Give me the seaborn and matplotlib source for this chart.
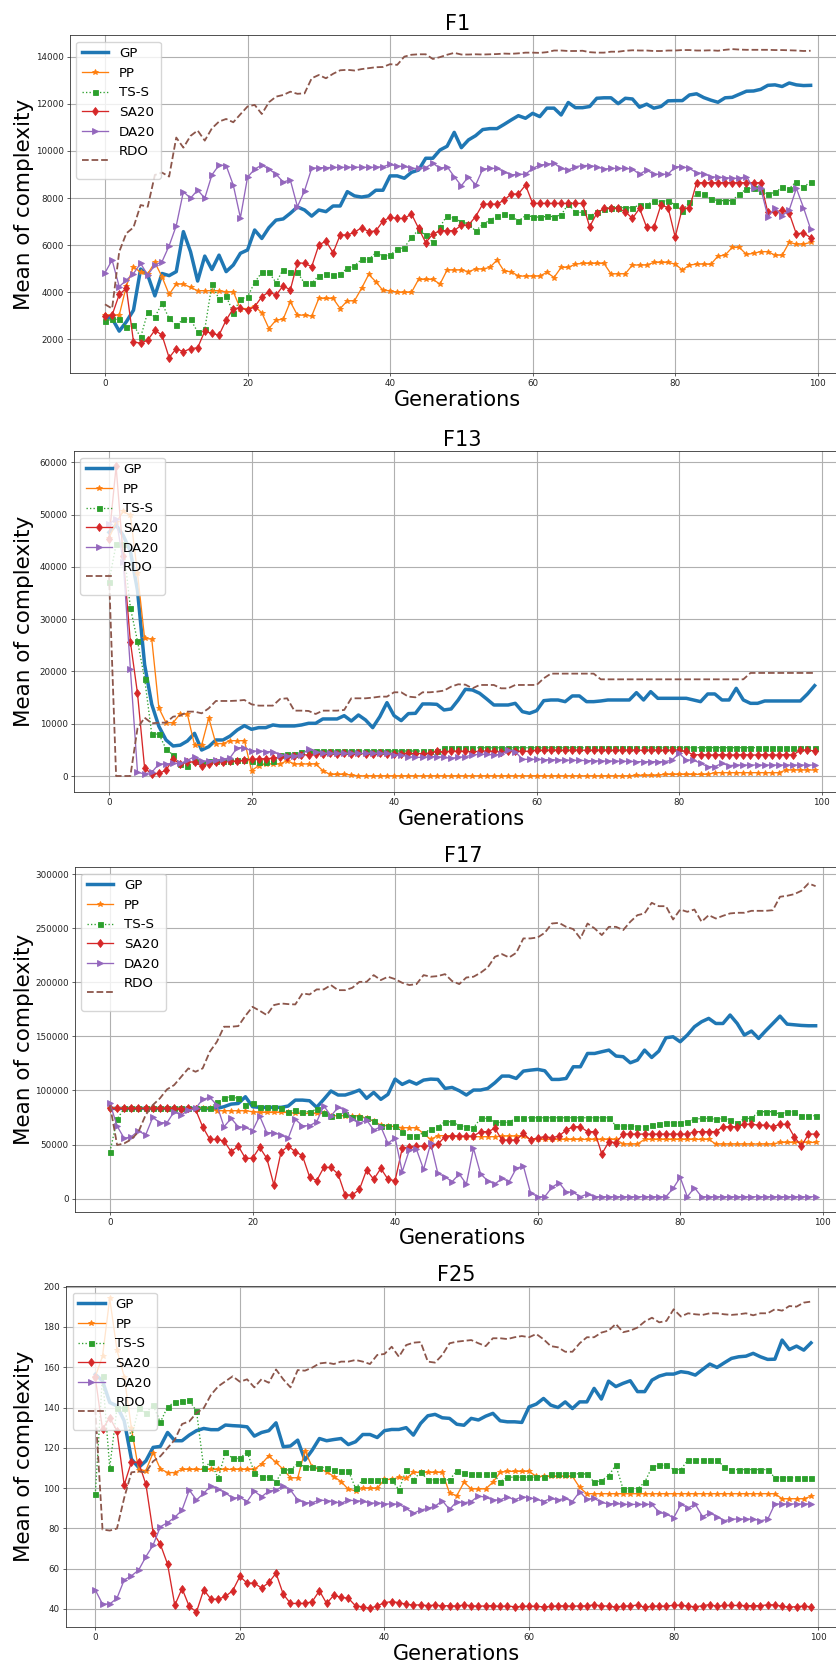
import matplotlib
matplotlib.use("Agg")
import matplotlib.pyplot as plt
import seaborn as sns

gens = list(range(100))
series_names = ["GP", "PP", "TS-S", "SA20", "DA20", "RDO"]
legend_labels = ["GP", "PP", "TS-S", "SA20", "DA20", "RDO\n"]
titles = ["F1", "F13", "F17", "F25"]

# ---------------- F1 ----------------
f1_gp = [2950, 2880, 2340, 2740, 3230, 4980, 4720, 3840, 4790, 4700,
         4870, 6570, 5720, 4470, 5530, 4960, 5570, 4870, 5150, 5650,
         5790, 6640, 6280, 6740, 7060, 7110, 7350, 7620, 7490, 7230,
         7490, 7420, 7660, 7660, 8270, 8090, 8040, 8090, 8330, 8330,
         8940, 8940, 8840, 9090, 9190, 9690, 9690, 10040, 10200, 10790,
         10140, 10470, 10650, 10910, 10950, 10950, 11130, 11320, 11500, 11390,
         11600, 11460, 11820, 11820, 11530, 12060, 11840, 11840, 11890, 12240,
         12260, 12260, 12010, 12240, 12210, 11860, 11990, 11820, 11890, 12130,
         12140, 12140, 12380, 12430, 12270, 12160, 12070, 12260, 12280, 12410,
         12540, 12550, 12620, 12790, 12810, 12740, 12890, 12810, 12780, 12790]
f1_pp = [3020, 3020, 3020, 4260, 5080, 4840, 4780, 5260, 4650, 3900,
         4340, 4340, 4200, 4060, 4060, 4060, 4060, 4010, 4010, 3300,
         3300, 3400, 3120, 2450, 2810, 2850, 3590, 3020, 3020, 2980,
         3730, 3730, 3730, 3300, 3630, 3630, 4160, 4750, 4440, 4070,
         4060, 3990, 3990, 3990, 4540, 4540, 4540, 4340, 4940, 4940,
         4940, 4870, 4980, 4980, 5050, 5360, 4890, 4870, 4680, 4680,
         4680, 4680, 4840, 4620, 5050, 5050, 5190, 5220, 5220, 5220,
         5220, 4770, 4780, 4780, 5150, 5150, 5150, 5260, 5260, 5260,
         5190, 4940, 5150, 5190, 5190, 5180, 5530, 5570, 5900, 5900,
         5600, 5650, 5720, 5720, 5570, 5570, 6110, 6040, 6040, 6110]
f1_tss = [2770, 2840, 2840, 2500, 2620, 2070, 3160, 2940, 3520, 2880,
          2600, 2840, 2840, 2310, 2410, 4330, 3700, 3830, 3120, 3700,
          3800, 4410, 4840, 4840, 4400, 4960, 4870, 4840, 4370, 4370,
          4700, 4770, 4720, 4770, 5010, 5120, 5390, 5390, 5670, 5530,
          5570, 5820, 5890, 6330, 6640, 6430, 6110, 6780, 7250, 7130,
          6990, 6890, 6600, 6880, 7060, 7230, 7300, 7250, 7020, 7250,
          7210, 7180, 7220, 7210, 7280, 7740, 7390, 7390, 7230, 7390,
          7520, 7590, 7590, 7590, 7580, 7700, 7700, 7890, 7840, 7890,
          7700, 7450, 7840, 8200, 8170, 7960, 7890, 7890, 7890, 8170,
          8380, 8440, 8310, 8160, 8240, 8450, 8400, 8700, 8450, 8700]
f1_sa = [2980, 3020, 3900, 4160, 1890, 1820, 1960, 2380, 2170, 1210,
         1600, 1460, 1600, 1630, 2340, 2240, 2170, 2810, 3300, 3330,
         3230, 3380, 3800, 4010, 3870, 4270, 4090, 5250, 5220, 5080,
         6000, 6170, 5670, 6430, 6430, 6540, 6740, 6570, 6600, 7020,
         7180, 7130, 7130, 7320, 6710, 6100, 6470, 6610, 6610, 6610,
         6850, 6850, 7210, 7740, 7740, 7740, 7910, 8170, 8170, 8550,
         7770, 7770, 7770, 7770, 7770, 7770, 7770, 7770, 6780, 7350,
         7560, 7560, 7560, 7420, 7130, 7560, 6750, 6750, 7700, 7590,
         6340, 7560, 7560, 8650, 8650, 8650, 8650, 8650, 8650, 8650,
         8650, 8650, 8650, 7390, 7390, 7490, 7350, 6470, 6520, 6310]
f1_da = [4820, 5360, 4230, 4510, 4790, 5220, 4720, 5150, 5290, 5970,
         6820, 8270, 7990, 8340, 7990, 8980, 9400, 9380, 8550, 7160,
         8880, 9230, 9400, 9230, 9010, 8680, 8770, 7630, 8310, 9260,
         9290, 9290, 9300, 9300, 9310, 9310, 9310, 9300, 9310, 9330,
         9430, 9350, 9350, 9260, 9260, 9290, 9480, 9260, 9330, 8910,
         8520, 8910, 8550, 9230, 9260, 9260, 9120, 8980, 9010, 9010,
         9260, 9400, 9430, 9480, 9260, 9190, 9330, 9380, 9380, 9330,
         9230, 9260, 9260, 9260, 9230, 9010, 9190, 9010, 9010, 9010,
         9330, 9330, 9260, 9070, 9040, 8910, 8880, 8870, 8840, 8840,
         8910, 8410, 8410, 7210, 7560, 7250, 7490, 8410, 7590, 6680]
f1_rdo = [3480, 3300, 5720, 6500, 6750, 7700, 7630, 8980, 9080, 8910,
          10570, 10140, 10640, 10870, 10440, 10960, 11250, 11360, 11220, 11560,
          11890, 11960, 11570, 12070, 12310, 12380, 12520, 12430, 12450, 13090,
          13230, 13090, 13280, 13430, 13450, 13420, 13480, 13520, 13560, 13570,
          13690, 13660, 14010, 14090, 14110, 14110, 13910, 13990, 14090, 14170,
          14100, 14100, 14110, 14100, 14110, 14120, 14140, 14130, 14150, 14180,
          14180, 14170, 14200, 14270, 14270, 14250, 14250, 14260, 14200, 14180,
          14180, 14220, 14220, 14260, 14280, 14270, 14270, 14250, 14250, 14270,
          14270, 14290, 14290, 14270, 14270, 14280, 14260, 14300, 14330, 14310,
          14300, 14300, 14300, 14300, 14290, 14290, 14280, 14270, 14250, 14260]

# ---------------- F13 ----------------
f13_gp = [46600, 48000, 46000, 43000, 35500, 21300, 13700, 9500, 6900, 5740,
          5900, 6700, 8160, 4970, 5610, 6890, 6890, 7650, 8800, 9630,
          8930, 9250, 9250, 9760, 9570, 9570, 9570, 9760, 10080, 10080,
          10910, 10910, 10910, 11540, 10520, 11670, 10710, 9250, 11350, 14030,
          11540, 10590, 11930, 11990, 13780, 13780, 13710, 12630, 12820, 14540,
          16580, 16450, 15820, 14730, 13580, 13580, 13580, 13900, 12310, 11990,
          12500, 14410, 14540, 14540, 14220, 15310, 15310, 14220, 14220, 14350,
          14540, 14540, 14540, 14540, 15940, 14540, 16130, 14860, 14860, 14860,
          14860, 14860, 14540, 14220, 15690, 15690, 14540, 14540, 16770, 14540,
          13900, 13900, 14350, 14350, 14350, 14350, 14350, 14350, 15690, 17280]
f13_pp = [45500, 48500, 50600, 49900, 38800, 26300, 26200, 13000, 10200, 10200,
          11900, 11800, 5930, 5930, 11100, 6200, 6200, 6760, 6760, 6760,
          1020, 1980, 2300, 2300, 2300, 2930, 2300, 2300, 2300, 2300,
          1020, 320, 320, 320, 190, 30, 30, 30, 30, 30,
          30, 30, 30, 30, 30, 30, 30, 30, 30, 30,
          30, 30, 30, 30, 30, 30, 30, 30, 30, 30,
          30, 30, 30, 30, 30, 30, 30, 30, 30, 30,
          30, 30, 30, 30, 130, 130, 130, 130, 320, 320,
          320, 320, 320, 320, 320, 640, 640, 640, 640, 640,
          640, 640, 640, 640, 640, 1150, 1150, 1150, 1150, 1150]
f13_tss = [37200, 44300, 44300, 32200, 25800, 18600, 8040, 8000, 5200, 4000,
           2200, 2000, 2800, 2500, 2800, 2800, 2900, 2900, 3000, 3000,
           2800, 2600, 2600, 2800, 4000, 4300, 4300, 4600, 4780, 4780,
           4780, 4780, 4780, 4780, 4780, 4780, 4780, 4780, 4780, 4780,
           4780, 4780, 4780, 4780, 4780, 4780, 4780, 5420, 5420, 5420,
           5420, 5420, 5420, 5420, 5420, 5420, 5420, 5420, 5420, 5420,
           5420, 5420, 5420, 5420, 5420, 5420, 5420, 5420, 5420, 5420,
           5420, 5420, 5420, 5420, 5420, 5420, 5420, 5420, 5420, 5420,
           5420, 5420, 5420, 5420, 5420, 5420, 5420, 5420, 5420, 5420,
           5420, 5420, 5420, 5420, 5420, 5420, 5420, 5420, 5420, 5420]
f13_sa = [45400, 59200, 42000, 25700, 15800, 1500, 400, 500, 1100, 3300,
          2200, 2700, 2700, 1900, 2300, 2600, 2600, 2900, 2800, 3000,
          3200, 3300, 3300, 3400, 3600, 3700, 3800, 4100, 4000, 4200,
          4300, 4340, 4200, 4340, 4300, 4340, 4200, 4300, 4340, 4300,
          4200, 4300, 4340, 4300, 4300, 4340, 4700, 4660, 4700, 4780,
          4700, 4660, 4700, 4780, 4700, 4660, 4700, 4700, 4780, 4700,
          4970, 4900, 4970, 4970, 4900, 4970, 4970, 4900, 4970, 4970,
          4970, 4900, 4970, 4970, 4970, 4900, 4970, 4970, 4900, 4970,
          4970, 4700, 4020, 4100, 4020, 4020, 4100, 4020, 4020, 4100,
          4020, 4020, 4100, 4020, 4020, 4100, 4020, 4970, 4970, 4780]
f13_da = [48200, 49200, 41000, 20500, 700, 400, 700, 2300, 2300, 2400,
          2400, 3000, 3700, 2870, 2870, 3060, 3190, 3510, 5420, 5420,
          4780, 4780, 4660, 4660, 4020, 3890, 3890, 4020, 5170, 4660,
          4340, 4340, 4340, 4340, 4340, 4340, 4340, 4340, 4340, 4340,
          4020, 4020, 3700, 3570, 3570, 3700, 3700, 3570, 3380, 3570,
          3700, 4020, 4150, 4150, 4020, 4150, 4970, 4660, 3190, 3190,
          3190, 3130, 3130, 3060, 3060, 3000, 3000, 2930, 2930, 2870,
          2870, 2870, 2810, 2810, 2740, 2740, 2740, 2740, 2740, 3060,
          4340, 3060, 3060, 2420, 1790, 1790, 2420, 1980, 2100, 2100,
          2100, 2100, 2100, 2100, 2100, 2100, 2100, 2100, 2100, 2100]
f13_rdo = [38650, 0, 0, 0, 9120, 11160, 10080, 10200, 10200, 11350,
           11540, 12310, 12310, 11990, 12950, 14350, 14350, 14350, 14410, 14540,
           13710, 13460, 13460, 13460, 14730, 14860, 12500, 12500, 12440, 11860,
           12500, 12500, 12500, 12630, 14860, 14860, 14860, 14990, 15180, 15180,
           16010, 16010, 15180, 15050, 16010, 16010, 16130, 16330, 17090, 17540,
           17470, 16770, 17410, 17410, 17410, 16770, 16770, 17410, 17410, 17410,
           17410, 18690, 19580, 19580, 19580, 19580, 19580, 19580, 19580, 18490,
           18490, 18490, 18490, 18490, 18490, 18490, 18490, 18490, 18490, 18490,
           18490, 18490, 18490, 18490, 18490, 18490, 18490, 18490, 18490, 18490,
           19710, 19710, 19710, 19710, 19710, 19710, 19710, 19710, 19710, 19710]

# ---------------- F17 ----------------
f17_gp = [83400, 83400, 83400, 83400, 83400, 83400, 83400, 83400, 83400, 83400,
          83400, 83400, 83400, 83400, 83400, 83400, 85000, 87400, 88000, 94200,
          85000, 84400, 84400, 84400, 84400, 85600, 91100, 91100, 90500, 84400,
          91800, 99500, 95800, 95800, 97900, 100400, 92700, 98200, 91800, 96400,
          110500, 105600, 108700, 105900, 109600, 110500, 110200, 101900, 102800, 99800,
          95800, 100400, 100400, 101900, 107100, 113300, 113300, 111100, 117900, 118800,
          119500, 118200, 110200, 110200, 111100, 121900, 121900, 134200, 134200, 135800,
          137300, 131800, 131200, 125600, 128100, 137300, 130500, 136400, 148700, 149600,
          145000, 151200, 158900, 163500, 166600, 161900, 161900, 169700, 161900, 151200,
          154900, 148100, 155200, 161900, 168700, 161300, 160700, 160100, 159800, 159800]
f17_pp = [83400, 83400, 83400, 83400, 83400, 83400, 83400, 83400, 83400, 83400,
          83400, 83400, 83400, 83400, 83400, 81300, 81300, 81300, 81300, 81300,
          80400, 79700, 79700, 79700, 79700, 79700, 78800, 78800, 78800, 78800,
          78800, 76700, 76700, 76700, 76700, 76700, 74200, 71700, 68000, 67400,
          66500, 65600, 65600, 65600, 60000, 54800, 58200, 58200, 58200, 57300,
          57300, 57300, 57300, 57300, 57300, 57900, 57900, 57900, 57900, 54800,
          54800, 54800, 54800, 54800, 54800, 54800, 54800, 54800, 54800, 54800,
          54800, 54800, 50500, 50500, 50500, 54800, 54800, 54800, 54800, 54800,
          54800, 54800, 54800, 54800, 54800, 50500, 50500, 50500, 50500, 50500,
          50500, 50500, 50500, 50500, 52000, 52000, 52000, 52000, 52000, 52000]
f17_tss = [43400, 73600, 83400, 83400, 83400, 83400, 83400, 83400, 83400, 83400,
           83400, 83400, 83400, 83400, 83400, 89000, 92700, 94200, 92700, 86500,
           88700, 84400, 84400, 84400, 83400, 80400, 81900, 80400, 80400, 82500,
           78800, 76700, 77300, 78200, 75700, 75700, 74200, 71700, 67400, 67400,
           67400, 61900, 57900, 57900, 61000, 64000, 66500, 71100, 71100, 67400,
           66500, 65600, 74200, 74200, 70500, 70500, 70500, 74800, 74800, 74800,
           74800, 74800, 74800, 74800, 74800, 74800, 74800, 74800, 74800, 74800,
           74800, 67100, 67100, 67100, 66500, 66500, 68000, 68600, 70200, 70200,
           70200, 71100, 73300, 74200, 74200, 73300, 74200, 72700, 69600, 74200,
           74200, 80400, 80400, 80400, 77900, 80400, 80400, 76700, 76700, 76700]
f17_sa = [83400, 83400, 83400, 83400, 83400, 83400, 83400, 83400, 83400, 83400,
          82500, 83400, 82500, 66500, 54800, 54800, 53300, 43400, 48600, 37300,
          37300, 47400, 37300, 12600, 43100, 48600, 43400, 39700, 20300, 16600,
          28900, 28900, 22800, 3400, 3400, 8600, 26500, 17900, 28000, 17900,
          16600, 46500, 48000, 48600, 48600, 49500, 50200, 57300, 57900, 57900,
          57900, 57900, 61900, 61900, 65000, 54200, 54200, 54200, 60300, 54200,
          56300, 57300, 56300, 57900, 63400, 66500, 66500, 61900, 61900, 41300,
          52700, 51700, 59700, 59700, 59700, 59700, 59700, 59700, 59700, 59700,
          59700, 59700, 61900, 61900, 61900, 61900, 66500, 66500, 66500, 68700,
          68700, 68000, 68000, 66500, 68700, 68700, 57300, 48600, 59700, 59700]
f17_da = [88100, 67100, 55700, 57300, 62800, 58800, 75100, 70200, 70200, 80400,
          77300, 81900, 83400, 91800, 93600, 86500, 66500, 74200, 66500, 65900,
          62800, 76400, 61000, 61000, 58800, 55700, 73300, 67400, 67400, 71100,
          85900, 76400, 84400, 81900, 73300, 69600, 72700, 63400, 66500, 51100,
          56300, 24900, 45000, 45600, 27100, 51100, 23400, 20300, 15700, 22800,
          13500, 46500, 22800, 16600, 13500, 18800, 15700, 28000, 30200, 5500,
          1800, 1800, 10500, 14800, 6500, 5800, 1800, 4300, 1800, 1800,
          1800, 1800, 1800, 1800, 1800, 1800, 1800, 1800, 1800, 9500,
          19700, 1800, 10200, 1800, 1800, 1800, 1800, 1800, 1800, 1800,
          1800, 1800, 1800, 1800, 1800, 1800, 1800, 1800, 1800, 1800]
f17_rdo = [86500, 49570, 51110, 54800, 61900, 77300, 86500, 92700, 101000, 105000,
           112700, 120400, 117300, 120400, 135800, 145000, 158900, 158900, 159500, 169000,
           177300, 173700, 169700, 178900, 180400, 179800, 179500, 189700, 188700, 193400,
           193400, 197400, 192700, 192700, 194900, 200400, 200400, 206600, 202000, 205100,
           202900, 199500, 197400, 198300, 206600, 205100, 205700, 207500, 201100, 198300,
           204400, 205100, 208800, 213700, 223500, 226000, 222900, 227200, 240500, 240500,
           241400, 245700, 254300, 254900, 251200, 249100, 240500, 254300, 249700, 243600,
           251200, 251200, 248200, 255900, 262000, 263600, 273400, 270300, 270300, 258000,
           267200, 265100, 267200, 255900, 262000, 258900, 261400, 263600, 264200, 264200,
           266000, 266000, 266000, 266600, 279000, 279900, 281400, 284500, 291300, 288800]

# ---------------- F25 ----------------
f25_gp = [156.5, 153.2, 142.5, 140.8, 133.4, 114.4, 110.2, 113.5, 120.2, 120.7,
          127.6, 123.5, 123.5, 126.3, 128.5, 129.6, 129.0, 129.0, 131.3, 131.0,
          130.8, 130.4, 125.8, 127.6, 128.5, 132.4, 120.5, 120.9, 123.8, 113.9,
          118.8, 124.6, 123.5, 124.1, 124.6, 121.6, 123.0, 126.6, 126.6, 125.1,
          128.5, 129.1, 129.1, 130.0, 126.3, 132.1, 135.9, 136.6, 134.9, 134.6,
          131.7, 131.2, 134.6, 133.8, 135.7, 137.1, 133.4, 132.9, 132.9, 132.6,
          140.3, 141.7, 144.5, 141.2, 140.0, 142.8, 139.5, 142.8, 142.8, 149.5,
          144.2, 153.1, 150.4, 152.0, 153.3, 147.9, 147.9, 153.6, 155.6, 156.6,
          156.6, 157.8, 157.3, 156.1, 158.9, 161.6, 159.9, 162.2, 164.4, 165.2,
          165.5, 166.9, 165.2, 163.9, 164.0, 173.5, 168.8, 170.5, 168.5, 172.1]
f25_pp = [155.3, 165.5, 194.2, 168.5, 155.3, 129.7, 109.0, 108.7, 117.6, 109.5,
          107.7, 107.7, 109.3, 109.3, 109.3, 109.3, 109.3, 109.3, 109.3, 109.3,
          109.3, 109.3, 109.3, 112.0, 116.0, 112.7, 109.3, 105.1, 105.1, 118.5,
          110.5, 109.3, 108.2, 105.7, 103.2, 99.4, 98.7, 99.9, 99.9, 99.9,
          104.3, 104.3, 105.3, 104.8, 107.8, 107.8, 107.8, 107.8, 107.8, 97.5,
          96.2, 102.9, 99.6, 99.6, 99.6, 102.9, 107.8, 108.3, 108.3, 108.3,
          108.3, 105.8, 105.8, 105.8, 105.8, 105.8, 105.8, 100.3, 97.2, 97.2,
          97.2, 97.2, 97.2, 97.2, 97.2, 97.2, 97.2, 97.2, 97.2, 97.2,
          97.2, 97.2, 97.2, 97.2, 97.2, 97.2, 97.2, 97.2, 97.2, 97.2,
          97.2, 97.2, 97.2, 97.2, 97.2, 94.7, 94.7, 94.7, 94.7, 95.9]
f25_tss = [96.9, 155.9, 110.1, 139.8, 139.8, 125.0, 139.8, 137.3, 141.1, 132.7,
           140.3, 142.8, 143.1, 143.5, 138.2, 110.1, 112.9, 104.8, 117.9, 114.7,
           114.7, 118.0, 107.7, 105.7, 105.4, 103.2, 109.0, 109.0, 112.2, 110.5,
           110.5, 110.2, 110.2, 109.0, 108.7, 108.7, 99.9, 104.1, 104.1, 104.1,
           104.1, 104.1, 99.1, 109.0, 104.1, 107.9, 104.1, 104.1, 104.1, 104.1,
           108.5, 107.6, 106.8, 106.8, 106.8, 106.8, 103.2, 105.4, 105.4, 105.4,
           105.4, 105.4, 105.4, 107.2, 107.2, 107.2, 107.2, 107.0, 107.0, 102.9,
           103.7, 106.2, 111.3, 99.6, 99.6, 99.6, 102.9, 110.5, 111.3, 111.3,
           109.2, 109.2, 114.1, 114.1, 114.1, 114.1, 114.1, 110.4, 109.2, 109.2,
           109.2, 109.2, 109.2, 109.2, 105.1, 105.1, 105.1, 105.1, 105.1, 105.1]
f25_sa = [155.0, 129.2, 135.0, 128.4, 101.6, 113.0, 112.7, 101.9, 77.9, 72.1,
          62.2, 41.8, 50.1, 41.2, 38.5, 49.5, 44.8, 44.8, 46.2, 49.0,
          56.1, 52.8, 52.8, 50.3, 53.1, 57.7, 47.3, 42.7, 42.7, 42.7,
          43.6, 49.0, 42.7, 46.8, 45.7, 45.3, 41.5, 41.0, 40.3, 41.5,
          43.1, 43.6, 43.1, 42.3, 41.9, 42.0, 41.6, 41.9, 41.5, 41.6,
          41.4, 41.9, 41.6, 41.3, 41.5, 41.6, 41.2, 41.5, 41.0, 41.2,
          41.4, 41.3, 41.0, 41.2, 41.5, 41.5, 41.3, 41.5, 41.5, 42.0,
          41.5, 41.4, 40.9, 41.4, 41.5, 41.9, 40.8, 41.4, 41.4, 41.4,
          41.8, 41.8, 41.4, 41.0, 41.6, 42.1, 41.3, 41.7, 41.7, 41.7,
          41.6, 41.6, 41.6, 42.0, 42.0, 41.3, 40.9, 41.1, 41.4, 41.0]
f25_da = [49.4, 42.4, 42.4, 45.3, 54.4, 56.4, 59.3, 65.9, 71.7, 80.8,
          82.8, 85.5, 89.1, 99.0, 94.1, 97.4, 101.2, 99.4, 97.7, 94.9,
          95.4, 93.3, 98.5, 95.7, 98.5, 99.0, 101.0, 99.0, 94.1, 92.7,
          92.7, 94.1, 93.7, 93.3, 92.4, 94.1, 93.6, 93.6, 92.4, 92.7,
          92.1, 92.1, 92.0, 89.9, 87.4, 89.1, 89.9, 91.0, 93.7, 89.4,
          93.3, 92.7, 93.3, 96.1, 95.4, 94.1, 94.1, 95.7, 94.1, 95.7,
          95.2, 94.5, 93.3, 94.9, 94.1, 94.9, 93.3, 98.2, 94.5, 94.9,
          92.9, 92.1, 92.4, 91.9, 91.9, 91.9, 91.9, 91.9, 87.9, 87.1,
          85.2, 91.9, 90.2, 91.9, 85.8, 87.7, 85.8, 83.8, 84.6, 84.6,
          84.6, 84.6, 83.8, 84.4, 92.1, 92.1, 92.1, 92.1, 92.1, 92.1]
f25_rdo = [139.6, 79.4, 78.9, 79.9, 95.1, 107.8, 108.3, 107.8, 113.3, 115.8,
           119.9, 124.0, 131.8, 133.1, 137.3, 139.7, 146.3, 150.5, 153.0, 155.5,
           152.8, 154.0, 150.0, 154.1, 152.3, 158.9, 154.0, 150.0, 158.6, 158.3,
           159.8, 161.9, 162.3, 161.6, 162.8, 162.8, 163.6, 162.8, 161.6, 166.1,
           166.6, 170.2, 165.2, 171.0, 172.2, 172.5, 162.8, 162.3, 166.1, 171.9,
           172.7, 173.1, 173.5, 171.9, 170.5, 174.4, 174.4, 174.0, 174.9, 175.5,
           174.9, 176.5, 173.9, 170.5, 169.9, 167.7, 167.7, 171.9, 174.9, 174.9,
           177.2, 178.2, 181.5, 177.4, 178.2, 179.7, 182.7, 184.6, 182.3, 183.0,
           188.8, 185.2, 186.8, 186.3, 186.0, 186.8, 186.8, 186.3, 186.0, 186.3,
           186.8, 185.8, 186.8, 186.8, 188.8, 188.1, 190.4, 190.1, 192.1, 192.6]

panel_data = [
    [f1_gp, f1_pp, f1_tss, f1_sa, f1_da, f1_rdo],
    [f13_gp, f13_pp, f13_tss, f13_sa, f13_da, f13_rdo],
    [f17_gp, f17_pp, f17_tss, f17_sa, f17_da, f17_rdo],
    [f25_gp, f25_pp, f25_tss, f25_sa, f25_da, f25_rdo],
]
for p in panel_data:
    for s in p:
        assert len(s) == 100, len(s)

y_ticks = [
    [2000, 4000, 6000, 8000, 10000, 12000, 14000],
    [0, 10000, 20000, 30000, 40000, 50000, 60000],
    [0, 50000, 100000, 150000, 200000, 250000, 300000],
    [40, 60, 80, 100, 120, 140, 160, 180, 200],
]
x_ticks = [0, 20, 40, 60, 80, 100]

# ---------------- styling / layout ----------------
plt.rcParams['font.family'] = ['DejaVu Sans']

styles = {
    "GP":   dict(color="#1f77b4", linewidth=2.5, linestyle="-"),
    "PP":   dict(color="#ff7f0e", linewidth=0.95, linestyle="-", marker="*", markersize=4.2),
    "TS-S": dict(color="#2ca02c", linewidth=0.95, linestyle=":", marker="s", markersize=3.6),
    "SA20": dict(color="#d62728", linewidth=0.95, linestyle="-", marker="d", markersize=4.4),
    "DA20": dict(color="#9467bd", linewidth=0.95, linestyle="-", marker=">", markersize=3.8),
    "RDO":  dict(color="#8c564b", linewidth=1.3, linestyle="--"),
}

FW, FH = 837.0, 1663.0
# left px, width px, top px, bottom px, xlim, ylim
geom = [
    (69.7, 776.2, 35, 373, (-4.95, 103.95), (560, 14930)),
    (73.7, 776.2, 451, 792, (-4.95, 103.95), (-3060, 62160)),
    (74.7, 776.2, 867, 1212, (-4.95, 103.95), (-12300, 306500)),
    (66.0, 780.8, 1286, 1627, (-4.05, 103.95), (31.0, 200.35)),
]

fig = plt.figure(figsize=(FW / 100, FH / 100), dpi=100)
fig.patch.set_facecolor("white")

for i, (title, data) in enumerate(zip(titles, panel_data)):
    L, Wd, T, B, xl, yl = geom[i]
    ax = fig.add_axes([L / FW, 1 - B / FH, Wd / FW, (B - T) / FH])
    ax.set_axisbelow(True)
    ax.grid(True, color="#b0b0b0", linewidth=0.8)
    for name, lab, vals in zip(series_names, legend_labels, data):
        st = dict(styles[name])
        if "marker" in st:
            st["markeredgecolor"] = st["color"]
            st["markeredgewidth"] = 0.6
        sns.lineplot(x=gens, y=vals, ax=ax, label=lab, legend=False, **st)
    ax.set_xlim(*xl)
    ax.set_ylim(*yl)
    ax.set_xticks(x_ticks)
    ax.set_yticks(y_ticks[i])
    ax.tick_params(labelsize=6.3, length=2.2, width=0.5, pad=2.2, colors="#222222")
    for sp in ax.spines.values():
        sp.set_linewidth(0.6)
        sp.set_color("#333333")
    ax.set_title(title, fontsize=15, pad=3.8)
    ax.set_xlabel("Generations", fontsize=15, labelpad=1.0)
    ax.set_ylabel("Mean of complexity", fontsize=15.5)
    ax.yaxis.set_label_coords((34 - L) / Wd, 0.5)
    ax.legend(loc="upper left", fontsize=9.6)

fig.savefig("out.png", dpi=100)
